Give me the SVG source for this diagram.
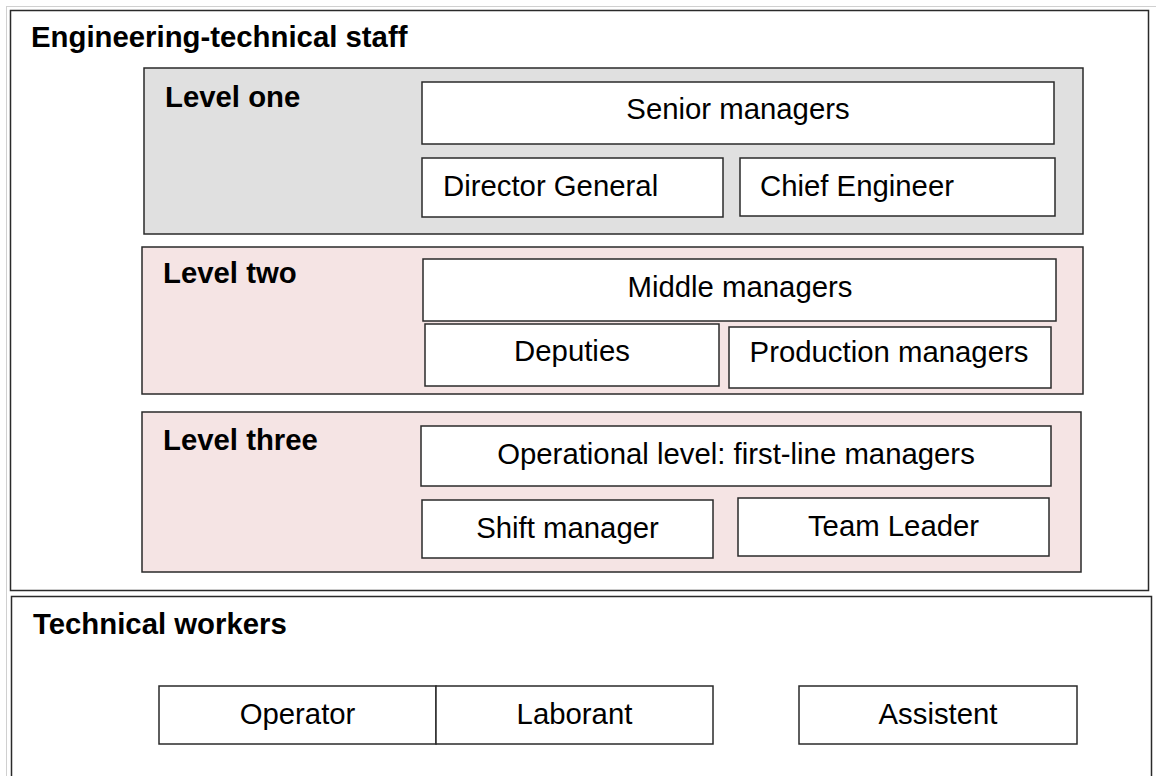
<svg xmlns="http://www.w3.org/2000/svg" width="1156" height="776" viewBox="0 0 1156 776">
<style>
text{font-family:"Liberation Sans",Arial,sans-serif;font-size:29.33px;fill:#000}
.b{font-weight:bold}
.c{text-anchor:middle}
.outer{fill:#fff;stroke:#2a2a2a;stroke-width:1.5}
.gray{fill:#e0e0e0;stroke:#2a2a2a;stroke-width:1.5}
.pink{fill:#f5e4e4;stroke:#2a2a2a;stroke-width:1.5}
.box{fill:#fff;stroke:#2a2a2a;stroke-width:1.5}
</style>
<rect width="1156" height="776" fill="#fff"/>
<rect x="6.5" y="6.5" width="1160" height="790" fill="none" stroke="#d0d0d0" stroke-width="1"/>
<g id="engineering-technical-staff">
<rect class="outer" x="10.5" y="10.5" width="1138" height="580"/>
<text class="b" x="31" y="47">Engineering-technical staff</text>
</g>
<g id="level-one">
<rect class="gray" x="144" y="68" width="939" height="166"/>
<text class="b" x="165" y="107">Level one</text>
</g>
<g id="senior-managers">
<rect class="box" x="422" y="82" width="632" height="62"/>
<text class="c" x="738" y="119">Senior managers</text>
</g>
<g id="director-general">
<rect class="box" x="422" y="158" width="301" height="59"/>
<text x="443" y="196">Director General</text>
</g>
<g id="chief-engineer">
<rect class="box" x="740" y="158" width="315" height="58"/>
<text x="760" y="196">Chief Engineer</text>
</g>
<g id="level-two">
<rect class="pink" x="142" y="247" width="941" height="147"/>
<text class="b" x="163" y="283">Level two</text>
</g>
<g id="middle-managers">
<rect class="box" x="423" y="259" width="633" height="62"/>
<text class="c" x="740" y="297">Middle managers</text>
</g>
<g id="deputies">
<rect class="box" x="425" y="324" width="294" height="62"/>
<text class="c" x="572" y="361">Deputies</text>
</g>
<g id="production-managers">
<rect class="box" x="729" y="327" width="322" height="61"/>
<text class="c" x="889" y="362">Production managers</text>
</g>
<g id="level-three">
<rect class="pink" x="142" y="412" width="939" height="160"/>
<text class="b" x="163" y="450">Level three</text>
</g>
<g id="operational-level">
<rect class="box" x="421" y="426" width="630" height="60"/>
<text class="c" x="736" y="464">Operational level: first-line managers</text>
</g>
<g id="shift-manager">
<rect class="box" x="422" y="500" width="291" height="58"/>
<text class="c" x="567.5" y="538">Shift manager</text>
</g>
<g id="team-leader">
<rect class="box" x="738" y="498" width="311" height="58"/>
<text class="c" x="893.5" y="536">Team Leader</text>
</g>
<g id="technical-workers">
<rect class="outer" x="11.5" y="596.5" width="1140" height="200"/>
<text class="b" x="33" y="634">Technical workers</text>
</g>
<g id="operator">
<rect class="box" x="159" y="686" width="277" height="58"/>
<text class="c" x="297.5" y="724">Operator</text>
</g>
<g id="laborant">
<rect class="box" x="436" y="686" width="277" height="58"/>
<text class="c" x="574.5" y="724">Laborant</text>
</g>
<g id="assistent">
<rect class="box" x="799" y="686" width="278" height="58"/>
<text class="c" x="938" y="724">Assistent</text>
</g>
<g id="connectors"></g>
</svg>
